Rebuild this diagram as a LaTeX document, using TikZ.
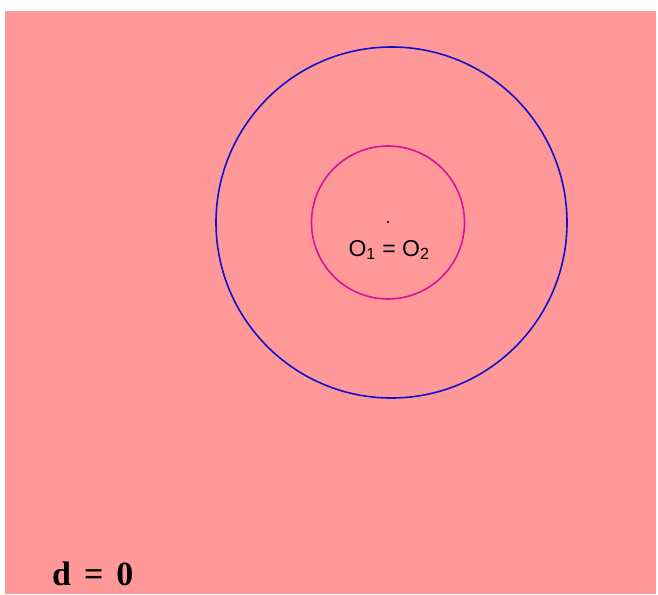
\documentclass[tikz,border=0pt]{standalone}
\usepackage{fontspec}
\setmainfont{Liberation Serif}
\newfontfamily\labelsans{Liberation Sans}
\definecolor{bgpink}{HTML}{FF9999}
\definecolor{outerblue}{HTML}{1010CC}
\definecolor{innermag}{HTML}{DD1199}
\begin{document}
\begin{tikzpicture}[x=1pt,y=-1pt,
  ring/.style={line width=1.6pt},
  centerlabel/.style={font=\labelsans\fontsize{23}{23}\selectfont,inner sep=0pt},
  caption/.style={font=\bfseries\fontsize{34}{34}\selectfont,inner sep=0pt,anchor=base west}]
\useasboundingbox (0,0) rectangle (658,594);
\fill[bgpink] (5,11) rectangle (656,594);
\coordinate (c) at (388,222);
\draw[ring,outerblue] (391.5,222.5) circle[radius=175.5];
\draw[ring,innermag] (388,222.5) circle[radius=76.5];
\fill[black] (c) circle[radius=1.2];
\node[centerlabel] (lbl) at (389,250) {O\textsubscript{1} = O\textsubscript{2}};
\node[caption] (d) at (52,585) {d\hspace{13pt}=\hspace{13pt}0};
\end{tikzpicture}
\end{document}
